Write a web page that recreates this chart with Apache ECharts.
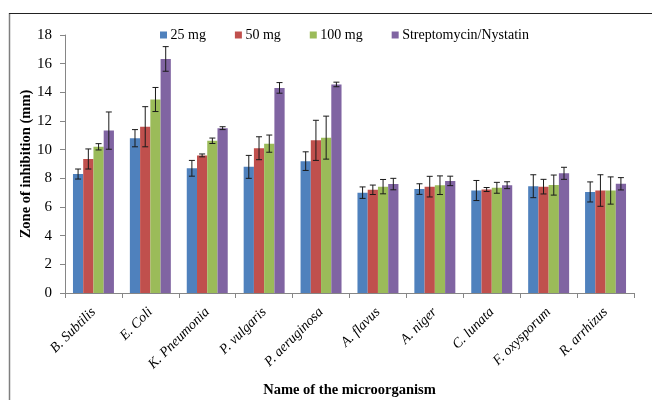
<!DOCTYPE html>
<html>
<head>
<meta charset="utf-8">
<script src="https://cdn.jsdelivr.net/npm/echarts@6/dist/echarts.min.js"></script>
<style>
html,body{margin:0;padding:0;background:#fff;}
#chart{width:652px;height:400px;}
</style>
</head>
<body>
<div id="chart"></div>
<script>
var categories = ['B. Subtilis','E. Coli','K. Pneumonia','P. vulgaris','P. aeruginosa','A. flavus','A. niger','C. lunata','F. oxysporum','R. arrhizus'];
var seriesNames = ['25 mg','50 mg','100 mg','Streptomycin/Nystatin'];
var mg25     = [8.3, 10.8, 8.7, 8.8, 9.2, 7.0, 7.25, 7.15, 7.45, 7.05];
var mg25Err  = [0.35, 0.6, 0.55, 0.8, 0.65, 0.4, 0.37, 0.7, 0.8, 0.7];
var mg50     = [9.35, 11.6, 9.6, 10.1, 10.65, 7.2, 7.42, 7.22, 7.42, 7.15];
var mg50Err  = [0.7, 1.4, 0.1, 0.8, 1.4, 0.33, 0.72, 0.14, 0.51, 1.1];
var mg100    = [10.2, 13.5, 10.62, 10.42, 10.84, 7.42, 7.52, 7.34, 7.53, 7.15];
var mg100Err = [0.22, 0.84, 0.19, 0.6, 1.5, 0.5, 0.65, 0.38, 0.7, 0.95];
var strep    = [11.33, 16.33, 11.5, 14.31, 14.55, 7.6, 7.82, 7.52, 8.35, 7.62];
var strepErr = [1.3, 0.86, 0.1, 0.37, 0.16, 0.4, 0.33, 0.24, 0.42, 0.43];
var yTicks = {min: 0, max: 18, interval: 2};

var values = [mg25, mg50, mg100, strep];
var errors = [mg25Err, mg50Err, mg100Err, strepErr];
var colors = ['#4F81BD','#C0504D','#9BBB59','#8064A2'];
var catGap = 0.28;

var errData = [];
for (var s = 0; s < 4; s++) {
  for (var i = 0; i < categories.length; i++) {
    errData.push([i, values[s][i], errors[s][i], s]);
  }
}

var series = [];
for (var s2 = 0; s2 < 4; s2++) {
  series.push({
    name: seriesNames[s2],
    type: 'bar',
    data: values[s2],
    barGap: 0,
    barCategoryGap: (catGap * 100) + '%',
    itemStyle: {color: colors[s2]}
  });
}
series.push({
  type: 'custom',
  name: 'err',
  data: errData,
  z: 10,
  renderItem: function (params, api) {
    var ci = api.value(0), v = api.value(1), e = api.value(2), si = api.value(3);
    var band = api.size([1, 0])[0];
    var bw = band * (1 - catGap) / 4;
    var x = api.coord([ci, v])[0] + (si - 1.5) * bw;
    var yTop = api.coord([ci, v + e])[1];
    var yBot = api.coord([ci, v - e])[1];
    var cap = 3;
    var st = {stroke: '#1a1a1a', lineWidth: 1};
    return {
      type: 'group',
      children: [
        {type: 'line', shape: {x1: x, y1: yTop, x2: x, y2: yBot}, style: st},
        {type: 'line', shape: {x1: x - cap, y1: yTop, x2: x + cap, y2: yTop}, style: st},
        {type: 'line', shape: {x1: x - cap, y1: yBot, x2: x + cap, y2: yBot}, style: st}
      ]
    };
  }
});

var chart = echarts.init(document.getElementById('chart'));
chart.setOption({
  animation: false,
  backgroundColor: '#fff',
  textStyle: {fontFamily: '"Liberation Serif", "Times New Roman", serif'},
  graphic: [
    {type: 'line', shape: {x1: 9.5, y1: 13, x2: 9.5, y2: 400}, style: {stroke: '#7f7f7f', lineWidth: 1.5}},
    {type: 'line', shape: {x1: 9, y1: 13.5, x2: 652, y2: 13.5}, style: {stroke: '#222', lineWidth: 1.2}}
  ],
  legend: {
    data: seriesNames,
    left: 160,
    top: 28,
    padding: 0,
    itemWidth: 7,
    itemHeight: 7,
    itemGap: 29,
    icon: 'rect',
    textStyle: {fontSize: 14, color: '#000', fontFamily: '"Liberation Serif", serif', padding: [0, 0, 0, -1.5]}
  },
  grid: {left: 65, right: 18, top: 35, bottom: 107, containLabel: false, outerBoundsMode: 'none'},
  xAxis: {
    type: 'category',
    data: categories,
    name: 'Name of the microorganism',
    nameLocation: 'middle',
    nameGap: 90,
    nameMoveOverlap: false,
    nameTextStyle: {fontSize: 14.5, fontWeight: 'bold', color: '#000'},
    axisLine: {lineStyle: {color: '#868686'}},
    axisTick: {show: true, length: 5, lineStyle: {color: '#868686'}},
    axisLabel: {rotate: 45, interval: 0, fontSize: 14, fontStyle: 'italic', color: '#000', margin: 17}
  },
  yAxis: {
    type: 'value',
    min: yTicks.min, max: yTicks.max, interval: yTicks.interval,
    name: 'Zone of inhibition (mm)',
    nameLocation: 'middle',
    nameRotate: 90,
    nameGap: 31,
    nameMoveOverlap: false,
    nameTextStyle: {fontSize: 14.5, fontWeight: 'bold', color: '#000'},
    axisLine: {show: true, lineStyle: {color: '#868686'}},
    axisTick: {show: true, length: 5, lineStyle: {color: '#868686'}},
    splitLine: {show: false},
    axisLabel: {fontSize: 15, color: '#000', margin: 13}
  },
  series: series
});
</script>
</body>
</html>
